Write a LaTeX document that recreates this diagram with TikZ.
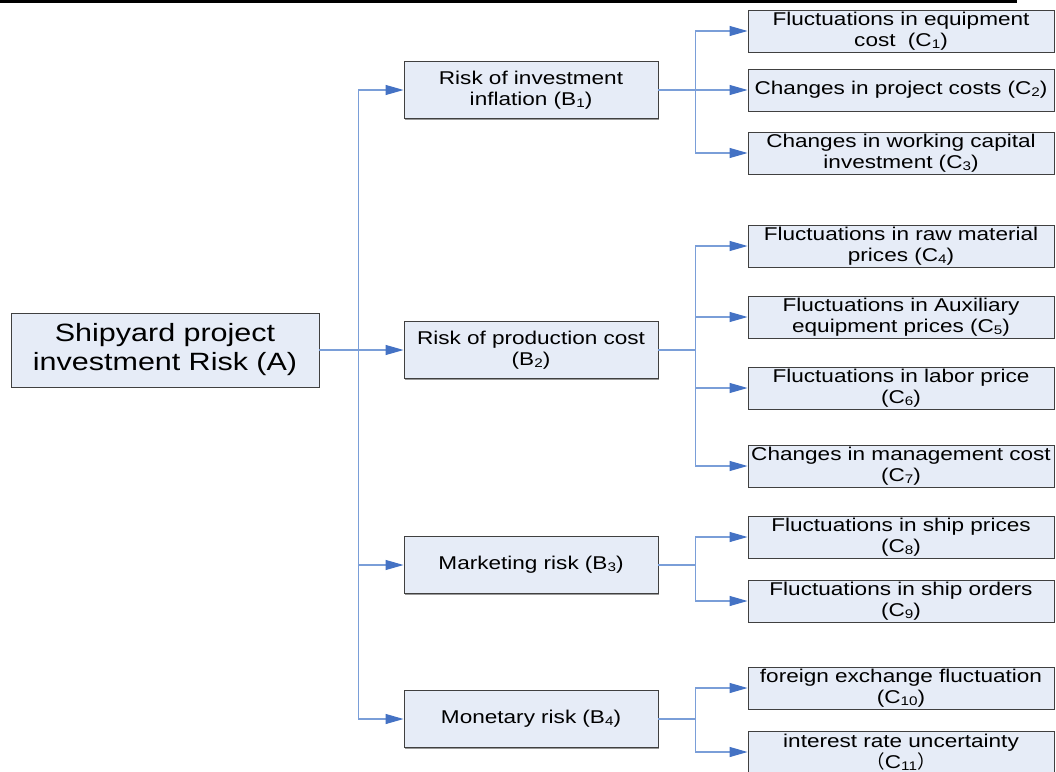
\documentclass[tikz,border=0pt]{standalone}
\usepackage{fontspec}
\setmainfont{Liberation Sans}[FakeStretch=1.22]
\newfontfamily\cjk{Noto Sans CJK SC}
\usetikzlibrary{positioning,calc,arrows.meta,shadows}

\definecolor{boxfill}{RGB}{230,236,247}
\definecolor{linkblue}{RGB}{122,158,216}
\definecolor{tipblue}{RGB}{68,114,196}

% small index digits as in the original
\newcommand\idx[1]{\raisebox{-1.5pt}{\fontsize{12.5}{12.5}\selectfont #1}}

\tikzset{
  box/.style={draw=black!75, fill=boxfill, align=center, inner sep=1pt, line width=0.9pt,
    drop shadow={shadow xshift=1.2pt, shadow yshift=-1.2pt, fill=black!40, opacity=1}},
  abox/.style={box, minimum width=308pt, minimum height=74pt, text width=304pt,
    font=\fontsize{25}{29}\selectfont},
  bbox/.style={box, minimum width=254pt, minimum height=57pt, text width=250pt,
    font=\fontsize{18.5}{21.5}\selectfont},
  cbox/.style={box, minimum width=306pt, minimum height=42pt, text width=304pt,
    font=\fontsize{18.5}{21.5}\selectfont},
  link/.style={draw=linkblue, line width=1.1pt},
  arrow/.style={link, -{Triangle[length=18pt,width=10pt,color=tipblue]}}
}

\begin{document}
\begin{tikzpicture}[on grid]
   \useasboundingbox (0,0) rectangle (1056pt,-771pt);
   \draw[line width=2.7pt] (0,-1.35pt) -- (1017pt,-1.35pt);

   % goal
   \node[abox] (A) at (165pt,-350pt) {Shipyard project\\investment Risk (A)};

   % criteria
   \node[bbox] (b1) [above right=260pt and 366pt of A] {Risk of investment\\inflation (B\idx{1})};
   \node[bbox] (b2) [right=366pt of A] {Risk of production cost\\(B\idx{2})};
   \node[bbox] (b3) [below right=215pt and 366pt of A] {Marketing risk (B\idx{3})};
   \node[bbox] (b4) [below right=369pt and 366pt of A] {Monetary risk (B\idx{4})};

   % sub-criteria
   \node[cbox] (c1) [above right=59pt and 370pt of b1] {Fluctuations in equipment\\cost\ \ (C\idx{1})};
   \node[cbox] (c2) [right=370pt of b1] {Changes in project costs (C\idx{2})};
   \node[cbox] (c3) [below right=63pt and 370pt of b1] {Changes in working capital\\investment (C\idx{3})};
   \node[cbox] (c4) [above right=104pt and 370pt of b2] {Fluctuations in raw material\\prices (C\idx{4})};
   \node[cbox] (c5) [above right=33pt and 370pt of b2] {Fluctuations in Auxiliary\\equipment prices (C\idx{5})};
   \node[cbox] (c6) [below right=38pt and 370pt of b2] {Fluctuations in labor price\\(C\idx{6})};
   \node[cbox] (c7) [below right=116pt and 370pt of b2] {Changes in management cost\\(C\idx{7})};
   \node[cbox] (c8) [above right=28pt and 370pt of b3] {Fluctuations in ship prices\\(C\idx{8})};
   \node[cbox] (c9) [below right=36pt and 370pt of b3] {Fluctuations in ship orders\\(C\idx{9})};
   \node[cbox] (c10) [above right=31pt and 370pt of b4] {foreign exchange fluctuation\\(C\idx{10})};
   \node[cbox] (c11) [below right=33pt and 370pt of b4] {interest rate uncertainty\\{\cjk （}C\idx{11}{\cjk ）}};

   % connectors
   \coordinate (jA) at ($(A.east)+(39pt,0)$);
   \draw[link] (A.east) -- (jA);
   \foreach \b in {b1,b2,b3,b4}
      \draw[arrow] (jA) |- (\b.west);

   \foreach \b/\cs in {b1/{c1,c2,c3}, b2/{c4,c5,c6,c7}, b3/{c8,c9}, b4/{c10,c11}} {
      \coordinate (j\b) at ($(\b.east)+(37pt,0)$);
      \draw[link] (\b.east) -- (j\b);
      \foreach \c in \cs
         \draw[arrow] (j\b) |- (\c.west);
   }
\end{tikzpicture}
\end{document}
